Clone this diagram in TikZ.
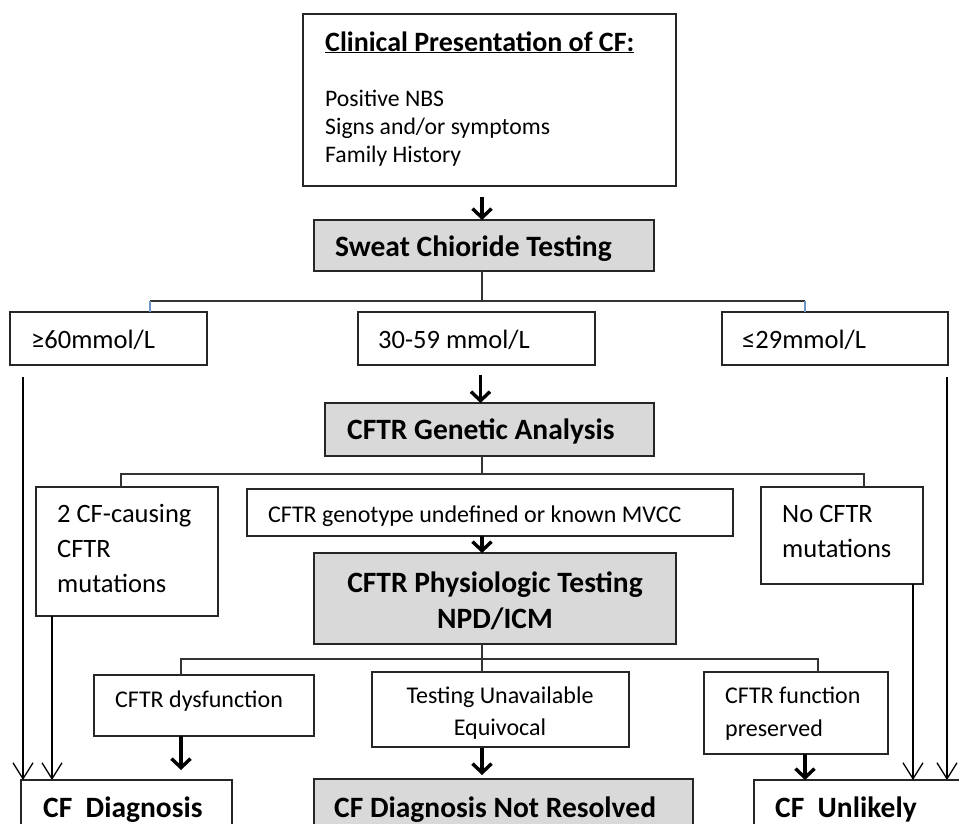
\documentclass[tikz,border=0pt]{standalone}
\usepackage{fontspec}
\setmainfont{Carlito}
\usetikzlibrary{arrows.meta}
\definecolor{boxc}{HTML}{262626}
\definecolor{grayfill}{HTML}{D9D9D9}
\definecolor{linec}{HTML}{333333}
\definecolor{bluec}{HTML}{6F94C8}
\newcommand\fbody{\fontsize{26.5}{32}\selectfont}
\newcommand\fsmall{\fontsize{24}{30}\selectfont}
\newcommand\ftop{\fontsize{23.7}{28}\selectfont}
\newcommand\fhead{\fontsize{29.5}{36}\selectfont\bfseries}
\begin{document}
\begin{tikzpicture}[x=1pt,y=-1pt,
  box/.style={draw=boxc,line width=1.4pt,inner sep=0pt,outer sep=0pt,anchor=north west,fill=white},
  gbox/.style={box,fill=grayfill},
  txt/.style={inner sep=0pt,anchor=base west},
  ctxt/.style={inner sep=0pt,anchor=base},
  conn/.style={draw=linec,line width=1.3pt},
  blueconn/.style={draw=bluec,line width=1.3pt},
  bigarr/.style={line width=3.4pt,draw=black,-{Straight Barb[length=9pt,width=19pt]}},
  thinarr/.style={line width=1.3pt,draw=black,-{Straight Barb[length=16pt,width=20pt]}}]
\useasboundingbox (0,0) rectangle (959,823);
\clip (0,0) rectangle (959,823);
\fill[white] (0,0) rectangle (959,823);

% coordinates for junctions
\coordinate (L1) at (150,301);
\coordinate (R1) at (805,301);
\coordinate (J2) at (482,474);
\coordinate (L2) at (121,474);
\coordinate (R2) at (864,474);
\coordinate (J3) at (482,659);
\coordinate (L3) at (181,659);
\coordinate (R3) at (818,659);

% boxes
\node[box,minimum width=373pt,minimum height=172pt] (top) at (303,14) {};
\node[gbox,minimum width=340pt,minimum height=51pt] (sweat) at (314,220) {};
\node[box,minimum width=197pt,minimum height=53pt] (ge60) at (10,312) {};
\node[box,minimum width=237pt,minimum height=53pt] (mid) at (358,312) {};
\node[box,minimum width=226pt,minimum height=53pt] (le29) at (722,312) {};
\node[gbox,minimum width=329pt,minimum height=53pt] (gen) at (325,403) {};
\node[box,minimum width=182pt,minimum height=129pt] (two) at (36,487) {};
\node[box,minimum width=486pt,minimum height=47pt] (geno) at (247,489) {};
\node[box,minimum width=162pt,minimum height=97pt] (nocf) at (761,487) {};
\node[gbox,minimum width=362pt,minimum height=91pt] (phys) at (314,553) {};
\node[box,minimum width=220pt,minimum height=61pt] (dys) at (94,675) {};
\node[box,minimum width=257pt,minimum height=75pt] (tua) at (372,672) {};
\node[box,minimum width=184pt,minimum height=82pt] (pres) at (704,672) {};
\node[box,minimum width=211pt,minimum height=80pt] (cfd) at (21,780) {};
\node[gbox,minimum width=379pt,minimum height=80pt] (cfnr) at (314,779) {};
\node[box,minimum width=260pt,minimum height=80pt] (cfu) at (754,780) {};

% texts
\node[txt] (t1) at (325,51) {\fontsize{28}{34}\selectfont\bfseries\underline{Clinical Presentation of CF:}};
\node[txt] (t2) at (325,106) {\ftop Positive NBS};
\node[txt] (t3) at (325,134) {\ftop Signs and/or symptoms};
\node[txt] (t4) at (325,162) {\ftop Family History};
\node[txt] (t5) at (335,256) {\fhead Sweat Chioride Testing};
\node[txt] (t6) at (31,348) {\fbody ≥60mmol/L};
\node[txt] (t7) at (378,348) {\fbody 30-59 mmol/L};
\node[txt] (t8) at (742,348) {\fbody ≤29mmol/L};
\node[txt] (t9) at (347,439) {\fhead CFTR Genetic Analysis};
\node[txt] (t10) at (57,522) {\fbody 2 CF-causing};
\node[txt] (t11) at (57,557) {\fbody CFTR};
\node[txt] (t12) at (57,592) {\fbody mutations};
\node[txt] (t13) at (268,522) {\fsmall CFTR genotype undefined or known MVCC};
\node[txt] (t14) at (782,522) {\fbody No CFTR};
\node[txt] (t15) at (782,557) {\fbody mutations};
\node[ctxt] (t16) at (495,592) {\fhead CFTR Physiologic Testing};
\node[ctxt] (t17) at (495,628) {\fhead NPD/ICM};
\node[txt] (t18) at (115,707) {\fsmall CFTR dysfunction};
\node[ctxt] (t19) at (500,703) {\fsmall Testing Unavailable};
\node[ctxt] (t20) at (500,735) {\fsmall Equivocal};
\node[txt] (t21) at (725,703) {\fsmall CFTR function};
\node[txt] (t22) at (725,736) {\fsmall preserved};
\node[txt] (t23) at (43,817) {\fhead CF\ \ Diagnosis};
\node[txt] (t24) at (334,817) {\fhead CF Diagnosis Not Resolved};
\node[txt] (t25) at (775,817) {\fhead CF\ \ Unlikely};

% connectors
\draw[bigarr] ([yshift=-11pt]top.south -| J2) -- (sweat.north -| J2);
\draw[conn] (sweat.south -| J2) -- (L1 -| J2);
\draw[conn] (L1) -- (R1);
\draw[blueconn] (L1) -- (L1 |- ge60.north);
\draw[blueconn] (R1) -- (R1 |- le29.north);
\draw[bigarr] ([xshift=4pt,yshift=-10pt]mid.south) -- ([xshift=4pt]mid.south |- gen.north);
\draw[thinarr] ([xshift=13pt,yshift=-12pt]ge60.south west) -- ([xshift=13pt]ge60.south west |- cfd.north);
\draw[thinarr] ([xshift=-1pt,yshift=-12pt]le29.south east) -- ([xshift=-1pt]le29.south east |- cfu.north);
\draw[conn] (gen.south -| J2) -- (J2);
\draw[conn] (L2 |- two.north) -- (L2) -- (R2) -- (R2 |- nocf.north);
\draw[bigarr] (geno.south -| J2) -- (phys.north -| J2);
\draw[thinarr] ([xshift=16pt]two.south west) -- ([xshift=16pt]two.south west |- cfd.north);
\draw[thinarr] ([xshift=-10pt]nocf.south east) -- ([xshift=-10pt]nocf.south east |- cfu.north);
\draw[conn] (phys.south -| J3) -- (J3 |- tua.north);
\draw[conn] (L3 |- dys.north) -- (L3) -- (R3) -- (R3 |- pres.north);
\draw[bigarr] (dys.south -| L3) -- ([yshift=10pt]cfd.north -| L3);
\draw[bigarr] ([yshift=-1pt]tua.south -| J3) -- ([yshift=4pt]cfnr.north -| J3);
\draw[bigarr] (pres.south -| R1) -- (cfu.north -| R1);
\end{tikzpicture}
\end{document}
